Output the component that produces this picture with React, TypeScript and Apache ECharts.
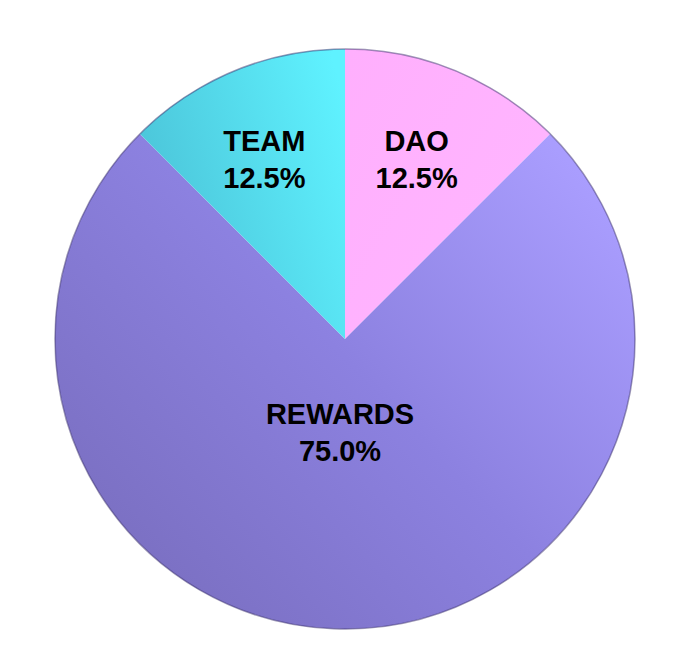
import React, { useEffect, useRef } from "react";
import * as echarts from "echarts";

const categories = ["DAO", "REWARDS", "TEAM"];
const values = [12.5, 75, 12.5];

const CX = 345;
const CY = 339;
const R = 290;

const fills: any[] = [
  {
    type: "linear", global: true, x: 342, y: 60, x2: 600, y2: 200,
    colorStops: [
      { offset: 0, color: "#ffaffd" },
      { offset: 1, color: "#ffb6ff" },
    ],
  },
  {
    type: "linear", global: true, x: 600, y: 180, x2: 150, y2: 600,
    colorStops: [
      { offset: 0, color: "#aa9eff" },
      { offset: 0.5, color: "#8c81e0" },
      { offset: 1, color: "#7a6fc1" },
    ],
  },
  {
    type: "linear", global: true, x: 140, y: 150, x2: 342, y2: 90,
    colorStops: [
      { offset: 0, color: "#4cc6da" },
      { offset: 1, color: "#5ff2ff" },
    ],
  },
];

const labelOffsets: [number, number][] = [
  [15, -43],
  [-5, -55],
  [-24, -43],
];

export default function App() {
  const ref = useRef<HTMLDivElement>(null);
  useEffect(() => {
    if (!ref.current) return;
    const chart = echarts.init(ref.current, undefined, { renderer: "svg" });
    const total = values.reduce((a, b) => a + b, 0);
    chart.setOption({
      animation: false,
      backgroundColor: "#ffffff",
      graphic: [
        {
          type: "circle",
          shape: { cx: CX, cy: CY, r: R },
          style: { fill: "none", stroke: "rgba(60,50,110,0.5)", lineWidth: 1.5 },
          z: 10,
          silent: true,
        },
      ],
      series: [
        {
          type: "pie",
          center: [CX, CY],
          radius: [0, R],
          startAngle: 90,
          clockwise: true,
          avoidLabelOverlap: false,
          labelLine: { show: false },
          itemStyle: { borderWidth: 0 },
          emphasis: { disabled: true },
          label: {
            show: true,
            position: "inside",
            color: "#000000",
            fontFamily: "Liberation Sans, Arial, sans-serif",
            fontWeight: "bold",
            fontSize: 29,
            lineHeight: 37,
            align: "center",
            textBorderWidth: 0,
            formatter: (p: any) =>
              `${p.name}\n${((p.value / total) * 100).toFixed(1)}%`,
          },
          data: categories.map((c, i) => ({
            name: c,
            value: values[i],
            itemStyle: { color: fills[i] },
            label: { offset: labelOffsets[i] },
          })),
        },
      ],
    });
    return () => chart.dispose();
  }, []);
  return (
    <div
      ref={ref}
      style={{ position: "fixed", left: 0, top: 0, width: 694, height: 668 }}
    />
  );
}
